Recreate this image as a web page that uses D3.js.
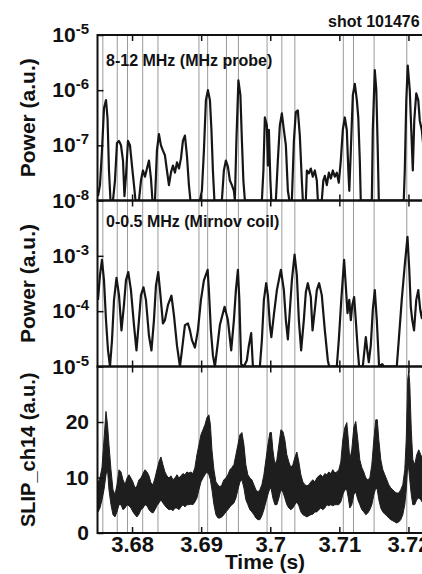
<!DOCTYPE html>
<html>
<head>
<meta charset="utf-8">
<script src="https://cdn.jsdelivr.net/npm/d3@7"></script>
<style>
  body { margin: 0; background: #fff; }
  text { font-family: "Liberation Sans", Arial, sans-serif; font-weight: bold; fill: #111; }
</style>
</head>
<body>
<div id="chart"></div>
<script>
// x axis
var X_TICKS = [3.68, 3.69, 3.70, 3.71, 3.72];
var X_TICK_LABELS = ["3.68", "3.69", "3.7", "3.71", "3.72"];

// times of the grey marker lines
var MARKER_TIMES = [3.67577, 3.67786, 3.67934, 3.68154, 3.68375, 3.68968, 3.69094, 3.69366,
    3.69539, 3.69954, 3.70168, 3.70356, 3.71057, 3.71205, 3.71503, 3.71976];

// 8-12 MHz (MHz probe) power; 1e-9 = below the axis floor
var HF_TIME = [3.67507, 3.67536, 3.67565, 3.67594, 3.67623, 3.67645, 3.67666, 3.67688, 3.67724, 3.67753,
    3.67782, 3.67811, 3.67840, 3.67869, 3.67890, 3.67912, 3.67941, 3.67970, 3.67999, 3.68028,
    3.68050, 3.68100, 3.68129, 3.68158, 3.68187, 3.68216, 3.68245, 3.68274, 3.68295, 3.68332,
    3.68360, 3.68389, 3.68418, 3.68447, 3.68476, 3.68505, 3.68534, 3.68563, 3.68592, 3.68621,
    3.68650, 3.68679, 3.68708, 3.68736, 3.68765, 3.68794, 3.68823, 3.68845, 3.68982, 3.69011,
    3.69040, 3.69069, 3.69098, 3.69127, 3.69149, 3.69170, 3.69192, 3.69300, 3.69329, 3.69358,
    3.69387, 3.69416, 3.69445, 3.69474, 3.69488, 3.69510, 3.69539, 3.69568, 3.69590, 3.69611,
    3.69633, 3.69879, 3.69901, 3.69922, 3.69951, 3.69966, 3.69980, 3.70002, 3.70016, 3.70081,
    3.70110, 3.70139, 3.70168, 3.70197, 3.70226, 3.70255, 3.70277, 3.70313, 3.70342, 3.70370,
    3.70399, 3.70428, 3.70457, 3.70472, 3.70515, 3.70530, 3.70559, 3.70587, 3.70616, 3.70645,
    3.70674, 3.70689, 3.70746, 3.70768, 3.70790, 3.70819, 3.70848, 3.70877, 3.70906, 3.70934,
    3.70963, 3.70992, 3.71021, 3.71050, 3.71079, 3.71108, 3.71130, 3.71144, 3.71166, 3.71195,
    3.71224, 3.71253, 3.71274, 3.71296, 3.71310, 3.71470, 3.71484, 3.71513, 3.71535, 3.71556,
    3.71571, 3.71932, 3.71947, 3.71969, 3.71990, 3.72019, 3.72041, 3.72063, 3.72084, 3.72113,
    3.72142, 3.72164, 3.72193, 3.72236];
var HF_POWER = [1.2e-8, 1.9e-8, 8e-8, 4.7e-7, 6.6e-7, 3.1e-7, 3.5e-8, 1e-9, 1e-9, 2.3e-8,
    1.1e-7, 1.2e-7, 1e-7, 5.3e-8, 1.2e-8, 2.8e-8, 1.2e-7, 1e-7, 4.3e-8, 1.9e-8,
    1e-9, 1e-9, 2.3e-8, 3.5e-8, 2.7e-8, 3.8e-8, 5.3e-8, 2.5e-8, 1e-9, 1e-8,
    8e-8, 1.6e-7, 1e-7, 8e-8, 6.6e-8, 3.5e-8, 1.9e-8, 3.2e-8, 4.3e-8, 3.2e-8,
    4.9e-8, 3.8e-8, 5.8e-8, 1.2e-7, 1.5e-7, 6.6e-8, 1.9e-8, 1e-9, 1e-9, 1.5e-8,
    8e-8, 6.6e-7, 1e-6, 6.6e-7, 1.9e-7, 3.5e-8, 1e-9, 1e-9, 3.5e-8, 5.3e-8,
    4.1e-8, 2.3e-8, 1.9e-8, 1.5e-8, 1e-9, 1.2e-7, 1.5e-6, 8.1e-7, 1.2e-7, 2.3e-8,
    1e-9, 1e-9, 3.5e-8, 3.2e-7, 2.3e-7, 4.3e-8, 1.9e-7, 2.3e-8, 1e-9, 1e-9,
    5.3e-8, 2.3e-7, 3.8e-7, 1.9e-7, 1e-7, 1.5e-8, 1e-9, 1e-9, 1.2e-7, 4e-7,
    4.3e-7, 1.5e-7, 2.3e-8, 1e-9, 1e-9, 3.5e-8, 3.1e-8, 3.8e-8, 2.7e-8, 3.5e-8,
    2.3e-8, 1e-9, 1e-9, 2.3e-8, 2.8e-8, 1.9e-8, 3.2e-8, 2.5e-8, 3.5e-8, 2.7e-8,
    3.2e-8, 2.1e-8, 5.3e-8, 1.9e-7, 3.2e-7, 1.9e-7, 3.5e-8, 1.5e-8, 8e-8, 8.1e-7,
    1.3e-6, 6.6e-7, 3.2e-7, 5.3e-8, 1e-9, 1e-9, 1.9e-7, 2.3e-6, 1e-6, 8e-8,
    1e-9, 1e-9, 3.5e-8, 6.6e-7, 2.8e-6, 1e-6, 1.9e-7, 3.5e-8, 2.8e-7, 8.8e-7,
    6.6e-7, 2.8e-7, 1.9e-7, 5.3e-8];

// 0-0.5 MHz (Mirnov coil) power; 1e-6 = below the axis floor
var LF_TIME = [3.67507, 3.67536, 3.67565, 3.67594, 3.67623, 3.67652, 3.67681, 3.67710, 3.67739, 3.67775,
    3.67811, 3.67847, 3.67883, 3.67912, 3.67945, 3.67984, 3.68028, 3.68064, 3.68100, 3.68129,
    3.68165, 3.68201, 3.68245, 3.68281, 3.68317, 3.68346, 3.68379, 3.68411, 3.68447, 3.68476,
    3.68520, 3.68570, 3.68606, 3.68650, 3.68693, 3.68722, 3.68765, 3.68809, 3.68838, 3.68867,
    3.68910, 3.68953, 3.68997, 3.69040, 3.69094, 3.69112, 3.69141, 3.69170, 3.69199, 3.69228,
    3.69271, 3.69339, 3.69387, 3.69435, 3.69474, 3.69503, 3.69532, 3.69553, 3.69579, 3.69619,
    3.69662, 3.69691, 3.69724, 3.69749, 3.69850, 3.69879, 3.69908, 3.69941, 3.69966, 3.69995,
    3.70016, 3.70052, 3.70096, 3.70154, 3.70197, 3.70226, 3.70255, 3.70284, 3.70313, 3.70352,
    3.70385, 3.70414, 3.70447, 3.70486, 3.70515, 3.70544, 3.70587, 3.70612, 3.70645, 3.70674,
    3.70707, 3.70746, 3.70790, 3.70833, 3.70852, 3.70963, 3.70992, 3.71028, 3.71069, 3.71093,
    3.71118, 3.71144, 3.71166, 3.71188, 3.71214, 3.71238, 3.71267, 3.71286, 3.71339, 3.71383,
    3.71404, 3.71426, 3.71455, 3.71484, 3.71513, 3.71542, 3.71575, 3.71621, 3.71643, 3.71831,
    3.71860, 3.71903, 3.71947, 3.71986, 3.72012, 3.72034, 3.72055, 3.72081, 3.72113, 3.72142,
    3.72171, 3.72193, 3.72236];
var LF_POWER = [1.6e-4, 4.5e-4, 8.5e-4, 3.6e-4, 6.9e-5, 1.95e-5, 1e-6, 3e-5, 1.6e-4, 4e-4,
    1.95e-4, 4.5e-5, 1.3e-4, 3.6e-4, 5.1e-4, 2.4e-4, 5.6e-5, 1.95e-5, 6.9e-5, 1.95e-4,
    2.7e-4, 1.6e-4, 3.6e-5, 1.95e-5, 6.9e-5, 2.9e-4, 5.1e-4, 1.95e-4, 6e-5, 6.9e-5,
    1.3e-4, 1.9e-4, 8.5e-5, 2.4e-5, 1e-6, 1.95e-5, 5.6e-5, 6e-5, 4.5e-5, 3e-5,
    2.2e-5, 4.5e-5, 1.6e-4, 3.6e-4, 5.6e-4, 2.4e-4, 4.5e-5, 1.6e-5, 1e-6, 1.95e-5,
    5.6e-5, 1.2e-4, 6.9e-5, 1.95e-5, 6.9e-5, 2.4e-4, 5.6e-4, 1.6e-4, 1.1e-5, 1e-6,
    1.3e-5, 2.4e-5, 4e-5, 1e-6, 1e-6, 3e-5, 1.6e-4, 3.2e-4, 1.95e-4, 5.6e-5,
    3.4e-5, 8.5e-5, 2.4e-4, 5.6e-4, 2.4e-4, 6.9e-5, 3.1e-5, 1.05e-4, 3.6e-4, 1.05e-3,
    4.5e-4, 6.9e-5, 1.95e-5, 6.9e-5, 2.2e-4, 3.2e-4, 1.8e-4, 4.5e-5, 1.05e-4, 2.4e-4,
    3.2e-4, 1.95e-4, 4.5e-5, 1.3e-5, 1e-6, 1e-6, 3e-5, 1.6e-4, 8.5e-4, 2.9e-4,
    9.2e-5, 1.6e-4, 6.9e-5, 1.3e-4, 1.8e-4, 6.9e-5, 1.95e-5, 1e-6, 1e-6, 3.4e-5,
    1.95e-5, 1.2e-5, 2.4e-5, 1.05e-4, 2.4e-4, 6.9e-5, 1e-6, 1.1e-5, 1e-6, 1e-6,
    3e-5, 1.6e-4, 6.9e-4, 2.2e-3, 5.6e-4, 1.2e-4, 6.9e-5, 4.5e-5, 1.6e-4, 2.4e-4,
    1.05e-4, 7.5e-5, 1.6e-4];

// SLIP_ch14 signal, upper and lower edge of the noisy trace
var SLIP_TIME = [3.67507, 3.67536, 3.67565, 3.67594, 3.67623, 3.67645, 3.67666, 3.67695, 3.67724, 3.67753,
    3.67782, 3.67811, 3.67840, 3.67869, 3.67898, 3.67927, 3.67956, 3.67984, 3.68013, 3.68042,
    3.68071, 3.68100, 3.68129, 3.68158, 3.68187, 3.68216, 3.68245, 3.68274, 3.68303, 3.68332,
    3.68360, 3.68389, 3.68418, 3.68447, 3.68476, 3.68505, 3.68534, 3.68563, 3.68592, 3.68621,
    3.68650, 3.68679, 3.68708, 3.68736, 3.68765, 3.68794, 3.68823, 3.68852, 3.68881, 3.68910,
    3.68939, 3.68968, 3.68997, 3.69026, 3.69055, 3.69084, 3.69112, 3.69134, 3.69156, 3.69185,
    3.69214, 3.69243, 3.69272, 3.69300, 3.69329, 3.69358, 3.69387, 3.69416, 3.69445, 3.69474,
    3.69503, 3.69532, 3.69561, 3.69590, 3.69619, 3.69647, 3.69676, 3.69705, 3.69734, 3.69763,
    3.69792, 3.69821, 3.69850, 3.69879, 3.69908, 3.69937, 3.69966, 3.69995, 3.70016, 3.70038,
    3.70067, 3.70096, 3.70125, 3.70154, 3.70183, 3.70211, 3.70240, 3.70269, 3.70298, 3.70327,
    3.70356, 3.70385, 3.70414, 3.70443, 3.70472, 3.70501, 3.70530, 3.70559, 3.70587, 3.70616,
    3.70645, 3.70674, 3.70703, 3.70732, 3.70761, 3.70790, 3.70819, 3.70848, 3.70877, 3.70906,
    3.70935, 3.70963, 3.70992, 3.71021, 3.71050, 3.71079, 3.71108, 3.71130, 3.71151, 3.71180,
    3.71209, 3.71238, 3.71267, 3.71296, 3.71325, 3.71354, 3.71383, 3.71412, 3.71441, 3.71470,
    3.71499, 3.71527, 3.71549, 3.71571, 3.71600, 3.71629, 3.71658, 3.71687, 3.71715, 3.71744,
    3.71773, 3.71802, 3.71831, 3.71860, 3.71889, 3.71918, 3.71947, 3.71968, 3.71990, 3.72005,
    3.72019, 3.72041, 3.72063, 3.72091, 3.72120, 3.72149, 3.72178, 3.72207, 3.72251];
var SLIP_HIGH = [9.0, 9.9, 11.8, 16.8, 21.9, 19.5, 15.9, 11.4, 7.8, 6.9,
    8.7, 11.4, 11.0, 9.6, 8.7, 9.9, 10.5, 9.9, 9.2, 8.1,
    8.5, 9.6, 9.9, 10.7, 11.4, 11.0, 10.3, 9.0, 8.7, 9.9,
    11.4, 12.8, 13.7, 12.3, 11.0, 10.3, 9.9, 10.3, 9.6, 9.9,
    10.5, 9.9, 10.3, 10.7, 10.5, 11.0, 10.8, 11.0, 10.7, 11.8,
    14.1, 15.9, 17.7, 18.6, 19.5, 20.8, 21.3, 19.5, 15.0, 11.4,
    9.2, 8.7, 8.3, 8.7, 9.6, 9.9, 10.5, 11.4, 11.8, 12.3,
    14.1, 15.9, 17.7, 18.1, 15.9, 12.3, 10.5, 9.9, 9.6, 8.7,
    7.8, 7.4, 7.8, 8.7, 10.5, 13.2, 15.9, 18.1, 18.1, 15.0,
    12.3, 13.2, 15.9, 18.6, 18.3, 16.8, 14.1, 12.8, 11.8, 12.3,
    13.6, 14.6, 12.8, 10.5, 9.2, 8.7, 8.5, 8.7, 9.2, 9.6,
    9.2, 9.9, 10.3, 10.5, 10.1, 10.7, 10.5, 11.0, 10.7, 11.4,
    10.8, 11.0, 11.4, 12.8, 16.8, 19.0, 19.9, 16.8, 13.2, 15.0,
    19.0, 20.1, 16.8, 13.2, 11.8, 11.0, 9.9, 9.6, 9.9, 12.3,
    16.8, 20.4, 20.4, 16.8, 13.2, 11.4, 10.5, 9.6, 8.7, 8.1,
    7.8, 7.4, 7.2, 7.2, 7.8, 8.7, 11.4, 16.8, 27.7, 29.1,
    26.9, 18.6, 13.2, 12.3, 14.1, 15.0, 14.1, 13.2, 13.0];
var SLIP_LOW = [3.8, 4.5, 6.0, 7.8, 10.5, 11.4, 7.8, 5.1, 3.3, 2.9,
    3.8, 5.1, 5.1, 4.2, 4.5, 5.1, 4.9, 4.5, 3.8, 3.3,
    2.9, 3.4, 4.2, 4.5, 5.1, 4.9, 4.2, 3.8, 3.6, 4.2,
    4.9, 5.4, 6.0, 5.4, 4.9, 4.5, 4.2, 4.3, 4.0, 4.5,
    4.5, 4.2, 4.7, 5.1, 4.7, 5.1, 5.1, 5.2, 5.1, 5.6,
    6.3, 7.8, 9.2, 9.9, 10.5, 11.0, 10.5, 9.6, 7.8, 5.1,
    3.3, 2.7, 2.7, 2.9, 3.3, 3.8, 4.2, 4.7, 5.1, 5.4,
    6.3, 7.8, 9.2, 9.6, 8.1, 6.0, 5.1, 4.2, 3.8, 3.3,
    2.7, 2.4, 2.4, 3.1, 4.2, 5.6, 6.9, 8.1, 7.8, 6.3,
    5.1, 5.1, 6.3, 7.8, 7.4, 6.3, 5.1, 4.5, 4.2, 4.5,
    5.1, 5.6, 4.9, 3.8, 3.3, 3.1, 2.9, 3.1, 3.3, 3.4,
    3.8, 3.8, 4.2, 4.5, 4.2, 4.5, 5.1, 4.9, 5.1, 4.9,
    5.1, 5.1, 5.1, 5.6, 6.9, 7.8, 7.8, 6.3, 4.5, 5.1,
    6.9, 7.4, 6.0, 5.1, 4.2, 3.8, 3.3, 3.6, 4.2, 5.1,
    6.9, 8.1, 7.8, 6.0, 4.5, 3.8, 3.4, 3.1, 2.7, 2.4,
    2.2, 2.0, 1.8, 2.0, 2.4, 3.3, 5.1, 7.8, 12.3, 11.4,
    9.6, 6.9, 5.1, 5.1, 6.0, 6.3, 6.0, 5.4, 5.2];

var HF_TICKS = [1e-5, 1e-6, 1e-7, 1e-8];
var LF_TICKS = [1e-3, 1e-4, 1e-5];
var SLIP_TICKS = [0, 10, 20];

var WIDTH = 422, HEIGHT = 574,
    LEFT = 97.5, RIGHT = 443;

var svg = d3.select("#chart").append("svg")
    .attr("width", WIDTH)
    .attr("height", HEIGHT)
    .style("display", "block");

var x = d3.scaleLinear().domain([3.675, 3.725]).range([LEFT, RIGHT]);

var panels = [
    { top: 35, bottom: 200.5, y: d3.scaleLog().domain([1e-8, 1e-5]).clamp(true), ticks: HF_TICKS, log: true,
      title: "Power (a.u.)", label: "8-12 MHz (MHz probe)" },
    { top: 200.5, bottom: 366.5, y: d3.scaleLog().domain([1e-5, 1e-2]).clamp(true), ticks: LF_TICKS, log: true,
      title: "Power (a.u.)", label: "0-0.5 MHz (Mirnov coil)" },
    { top: 366.5, bottom: 533, y: d3.scaleLinear().domain([0, 30]), ticks: SLIP_TICKS, log: false,
      title: "SLIP_ch14 (a.u.)", label: null }
];
panels.forEach(function(p){ p.y.range([p.bottom, p.top]); });

var defs = svg.append("defs");
panels.forEach(function(p, i){
    defs.append("clipPath").attr("id", "clip" + i)
        .append("rect")
        .attr("x", LEFT).attr("y", p.top)
        .attr("width", RIGHT - LEFT).attr("height", p.bottom - p.top);
});

// grey marker lines through all panels
svg.append("g").selectAll("line")
    .data(MARKER_TIMES).enter().append("line")
    .attr("x1", function(d){ return x(d); })
    .attr("x2", function(d){ return x(d); })
    .attr("y1", panels[0].top)
    .attr("y2", panels[2].bottom)
    .attr("stroke", "#9a9a9a")
    .attr("stroke-width", 1);

function zip(ts, vs){
    return ts.map(function(t, i){ return [t, vs[i]]; });
}

// power traces
[zip(HF_TIME, HF_POWER), zip(LF_TIME, LF_POWER)].forEach(function(series, i){
    var p = panels[i];
    var line = d3.line()
        .x(function(d){ return x(d[0]); })
        .y(function(d){ return p.y(d[1]); });
    svg.append("path")
        .datum(series)
        .attr("clip-path", "url(#clip" + i + ")")
        .attr("d", line)
        .attr("fill", "none")
        .attr("stroke", "#161616")
        .attr("stroke-width", 2.2)
        .attr("stroke-linejoin", "round");
});

// SLIP band
var slip = SLIP_TIME.map(function(t, i){ return { t: t, hi: SLIP_HIGH[i], lo: SLIP_LOW[i] }; });
var area = d3.area()
    .x(function(d){ return x(d.t); })
    .y0(function(d){ return panels[2].y(d.lo); })
    .y1(function(d){ return panels[2].y(d.hi); });
svg.append("path")
    .datum(slip)
    .attr("clip-path", "url(#clip2)")
    .attr("d", area)
    .attr("fill", "#1e1e1e")
    .attr("stroke", "#1e1e1e")
    .attr("stroke-width", 1);

// frames and ticks
panels.forEach(function(p, i){
    svg.append("rect")
        .attr("x", LEFT).attr("y", p.top)
        .attr("width", RIGHT - LEFT).attr("height", p.bottom - p.top)
        .attr("fill", "none").attr("stroke", "#111").attr("stroke-width", 2);

    var top = svg.append("g").attr("transform", "translate(0," + p.top + ")")
        .call(d3.axisTop(x).tickValues(X_TICKS).tickSize(-6).tickSizeOuter(0).tickFormat(""));
    var bottom = svg.append("g").attr("transform", "translate(0," + p.bottom + ")")
        .call(d3.axisBottom(x).tickValues(X_TICKS).tickSize(-6).tickSizeOuter(0)
            .tickPadding(3)
            .tickFormat(function(d, k){ return i == 2 ? X_TICK_LABELS[k] : ""; }));
    var left = svg.append("g").attr("transform", "translate(" + LEFT + ",0)")
        .call(d3.axisLeft(p.y).tickValues(p.ticks).tickSize(-6).tickSizeOuter(0).tickFormat(""));

    [top, bottom, left].forEach(function(g){
        g.select(".domain").remove();
        g.selectAll(".tick line").attr("stroke", "#111").attr("stroke-width", 1.5);
    });
    bottom.selectAll(".tick text")
        .style("font-size", "22px")
        .attr("fill", "#111");

    // y tick labels
    var labels = svg.append("g").selectAll("text")
        .data(p.ticks).enter().append("text")
        .attr("x", 89)
        .attr("y", function(d){ return p.y(d) + 7; })
        .attr("text-anchor", "end")
        .style("font-size", "21px");
    if (p.log){
        labels.append("tspan").text("10");
        labels.append("tspan")
            .attr("dy", -8)
            .style("font-size", "15px")
            .text(function(d){ return "-" + Math.round(-Math.log10(d)); });
    } else {
        labels.text(function(d){ return d; });
    }

    svg.append("text")
        .attr("transform", "translate(35," + (p.top + p.bottom) / 2 + ") rotate(-90)")
        .attr("text-anchor", "middle")
        .style("font-size", i == 2 ? "20px" : "21px")
        .text(p.title);

    if (p.label){
        svg.append("text")
            .attr("x", 106)
            .attr("y", p.top + (i == 0 ? 31 : 26))
            .style("font-size", "16px")
            .text(p.label);
    }
});

svg.append("text")
    .attr("x", 328).attr("y", 27)
    .style("font-size", "16px")
    .text("shot 101476");

svg.append("text")
    .attr("x", 265).attr("y", 569)
    .attr("text-anchor", "middle")
    .style("font-size", "21px")
    .text("Time (s)");
</script>
</body>
</html>
